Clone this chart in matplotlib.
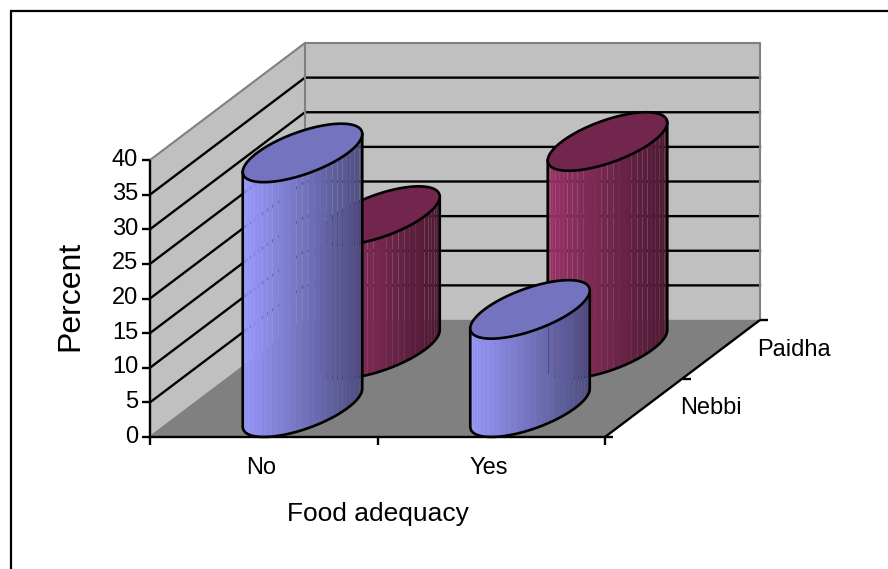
import numpy as np
import matplotlib
matplotlib.use("Agg")
import matplotlib.pyplot as plt
from matplotlib.patches import Polygon
from matplotlib.collections import PolyCollection

plt.rcParams['font.family'] = ['Liberation Sans', 'DejaVu Sans']

categories = ["No", "Yes"]
series_names = ["Nebbi", "Paidha"]
nebbi = [36.8, 14.2]
paidha = [19.3, 30]
y_ticks = [0, 5, 10, 15, 20, 25, 30, 35, 40]

# Oblique projection of the chart box, in figure pixels
ORIGIN = np.array([150.0, 437.0])
WIDTH = 455.0
DEPTH = np.array([155.0, -117.0])
PX_PER_UNIT = 277.0 / 40.0
BAR_HALF = 0.20  # half width of a column, as a share of one category slot


def project(cat, depth, value=0.0):
    """cat and depth run 0..n across the floor; value is in percent."""
    p = ORIGIN + np.array([WIDTH * cat / len(categories), 0.0]) + DEPTH * depth / len(series_names)
    return p + np.array([0.0, -value * PX_PER_UNIT])


fig = plt.figure(figsize=(8.88, 5.69), dpi=100)
ax = fig.add_axes([0, 0, 1, 1])
ax.set_xlim(0, 888)
ax.set_ylim(569, 0)
ax.axis("off")

# Outer frame: only the top and left edges are visible
ax.plot([10.5, 10.5, 888], [569, 11, 11], color="black", lw=1.6, solid_joinstyle="miter", zorder=1)

WALL = "#c0c0c0"
FLOOR = "#808080"
EDGE = "#808080"
top = y_ticks[-1]
ax.add_patch(Polygon([project(0, 0), project(0, 2), project(0, 2, top), project(0, 0, top)],
                     fc=WALL, ec="none", zorder=2))
ax.add_patch(Polygon([project(0, 2), project(2, 2), project(2, 2, top), project(0, 2, top)],
                     fc=WALL, ec="none", zorder=2))
ax.add_patch(Polygon([project(0, 0), project(2, 0), project(2, 2), project(0, 2)],
                     fc=FLOOR, ec="none", zorder=2))

# Gridlines wrapping the left and back walls
for v in y_ticks[1:-1]:
    pts = np.array([project(0, 0, v), project(0, 2, v), project(2, 2, v)])
    ax.plot(pts[:, 0], pts[:, 1], color="black", lw=1.7, zorder=3, solid_joinstyle="miter")

# Grey wall outlines
pts = np.array([project(0, 0, top), project(0, 2, top), project(2, 2, top), project(2, 2)])
ax.plot(pts[:, 0], pts[:, 1], color=EDGE, lw=1.5, zorder=3)
pts = np.array([project(0, 2, top), project(0, 2), project(0, 0)])
ax.plot(pts[:, 0], pts[:, 1], color=EDGE, lw=1.5, zorder=3)
pts = np.array([project(0, 2), project(2, 2)])
ax.plot(pts[:, 0], pts[:, 1], color=EDGE, lw=1.0, zorder=3)


def cylinder(cat, depth, value, base, z):
    """Draw one column: shaded side strips, darker top ellipse, black outline."""
    a = BAR_HALF * WIDTH / len(categories)
    d = DEPTH * 0.5 / len(series_names)
    low = project(cat, depth)
    high = project(cat, depth, value)
    ring = lambda c, t: np.column_stack([c[0] + a * np.cos(t) + d[0] * np.sin(t),
                                         c[1] + d[1] * np.sin(t)])
    t0 = np.arctan2(d[0], a)
    front = np.linspace(t0 + np.pi, t0 + 2 * np.pi, 31)
    bottom, upper = ring(low, front), ring(high, front)
    base = np.array(base)
    xmin, xmax = bottom[:, 0].min(), bottom[:, 0].max()
    strips, colours = [], []
    for i in range(len(front) - 1):
        strips.append([bottom[i], bottom[i + 1], upper[i + 1], upper[i]])
        frac = (0.5 * (bottom[i, 0] + bottom[i + 1, 0]) - xmin) / (xmax - xmin)
        colours.append(base * (1.0 - 0.5 * frac))
    ax.add_collection(PolyCollection(strips, facecolors=colours, edgecolors="none",
                                     antialiaseds=True, zorder=z))
    full = np.linspace(0, 2 * np.pi, 181)
    ax.add_patch(Polygon(ring(high, full), closed=True, fc=base * 0.75, ec="black", lw=1.9, zorder=z + 0.2))
    outline = np.vstack([upper[0], bottom, upper[-1]])
    ax.plot(outline[:, 0], outline[:, 1], color="black", lw=1.9, zorder=z + 0.1)


BLUE = (0x99 / 255, 0x99 / 255, 1.0)
PLUM = (0x99 / 255, 0x33 / 255, 0x66 / 255)
for i, v in enumerate(paidha):
    cylinder(i + 0.5, 1.5, v, PLUM, 4 + 0.5 * i)
for i, v in enumerate(nebbi):
    cylinder(i + 0.5, 0.5, v, BLUE, 6 + 0.5 * i)

# Axes lines and tick marks
AXIS_KW = dict(color="black", lw=1.7, zorder=8, solid_capstyle="butt")
p0, p1 = project(0, 0), project(0, 0, top)
ax.plot([p0[0], p1[0]], [p0[1], p1[1]], **AXIS_KW)
for v in y_ticks:
    p = project(0, 0, v)
    ax.plot([p[0] - 8, p[0]], [p[1], p[1]], **AXIS_KW)
    ax.text(138, p[1] - 0.5, str(v), ha="right", va="center", fontsize=17, color="black", zorder=9)

p0, p1 = project(0, 0), project(2, 0)
ax.plot([p0[0], p1[0]], [p0[1], p1[1]], **AXIS_KW)
for c in range(len(categories) + 1):
    p = project(c, 0)
    ax.plot([p[0], p[0]], [p[1], p[1] + 8], **AXIS_KW)

p0, p1 = project(2, 0), project(2, 2)
ax.plot([p0[0], p1[0]], [p0[1], p1[1]], **AXIS_KW)
for k in range(len(series_names) + 1):
    p = project(2, k)
    ax.plot([p[0], p[0] + 8], [p[1], p[1]], **AXIS_KW)

for i, name in enumerate(categories):
    p = project(i + 0.5, 0)
    ax.text(p[0] - 3, 467.5, name, ha="center", va="center", fontsize=17, color="black")
for k, name in enumerate(series_names):
    p = project(2, k + 0.5)
    ax.text(p[0] + 36, p[1] + 0.5, name, ha="left", va="center", fontsize=17, color="black")

ax.text(378, 514.5, "Food adequacy", ha="center", va="center", fontsize=19, color="black")
ax.text(70, 295.5, "Percent", ha="center", va="center", rotation=90, fontsize=23, color="black")

fig.savefig("out.png", dpi=100)
